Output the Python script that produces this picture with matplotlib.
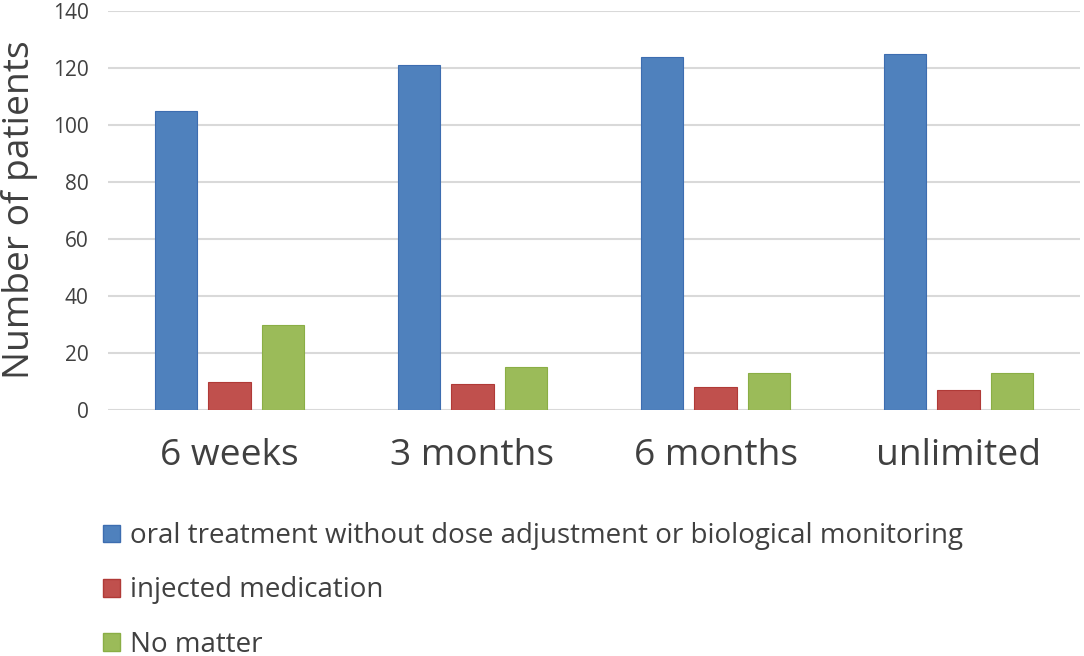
import matplotlib.pyplot as plt
import matplotlib.patches as mpatches
import numpy as np

plt.rcParams['font.family'] = ['Open Sans', 'DejaVu Sans']

# data
categories = ['6 weeks', '3 months', '6 months', 'unlimited']
oral = [105, 121, 124, 125]
injected = [10, 9, 8, 7]
no_matter = [30, 15, 13, 13]
series_names = ['oral treatment without dose adjustment or biological monitoring',
                'injected medication',
                'No matter']
colors = ['#4F81BD', '#C0504D', '#9BBB59']
edges = ['#3D6DB0', '#B03A37', '#8AAE45']

txt = '#404040'

fig = plt.figure(figsize=(10.84, 6.56), dpi=100)
ax = fig.add_axes([108 / 1084, 1 - 410 / 656, 972 / 1084, 399 / 656])

x = np.arange(len(categories))
w = 0.173
step = 0.222
for i, vals in enumerate([oral, injected, no_matter]):
    ax.bar(x + (i - 1) * step, vals, width=w, color=colors[i],
           edgecolor=edges[i], linewidth=0.8, zorder=3)

ax.set_xlim(-0.5, len(categories) - 0.5)
ax.set_ylim(0, 140)
ax.set_yticks(np.arange(0, 141, 20))
ax.set_xticks(x)
ax.set_xticklabels(categories, fontsize=26.7, color=txt)
ax.tick_params(axis='y', length=0, pad=14, labelsize=15, labelcolor=txt)
ax.tick_params(axis='x', length=0, pad=20)
ax.grid(axis='y', color='#D9D9D9', linewidth=1.5, zorder=0)
for s in ax.spines.values():
    s.set_visible(False)

fig.text(20 / 1084, 1 - 210 / 656, 'Number of patients', rotation=90,
         ha='center', va='center', fontsize=26.7, color=txt)

handles = [mpatches.Patch(facecolor=colors[i], edgecolor=edges[i], label=series_names[i])
           for i in range(3)]
fig.legend(handles=handles, loc='upper left', bbox_to_anchor=(92 / 1084, 1 - 511 / 656),
           frameon=False, fontsize=20, handlelength=0.6, handleheight=0.6,
           handletextpad=0.35, labelspacing=0.95, labelcolor=txt, borderaxespad=0)

fig.savefig('out.png', dpi=100)
